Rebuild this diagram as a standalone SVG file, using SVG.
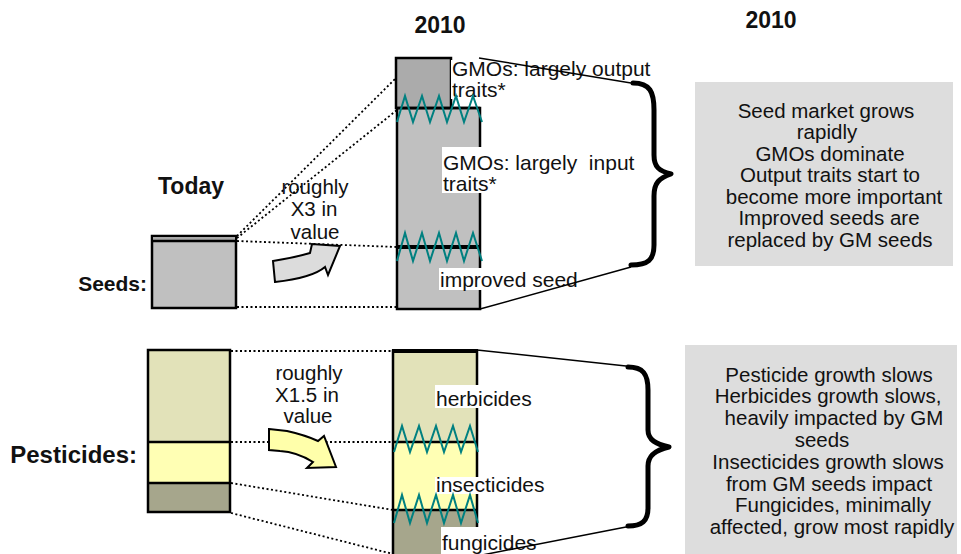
<svg xmlns="http://www.w3.org/2000/svg" width="961" height="554" viewBox="0 0 961 554">
  <style>
    text { font-family: "Liberation Sans", Arial, sans-serif; fill: #111; }
    .h { font-weight: bold; font-size: 23px; }
    .hs { font-weight: bold; font-size: 21px; }
    .hp { font-weight: bold; font-size: 24px; }
    .t { font-size: 20.5px; }
    .lbl { font-size: 21px; }
    .box { stroke: #000; stroke-width: 2.5; }
    .div { stroke: #000; stroke-width: 2.5; fill: none; }
    .thick { stroke: #000; stroke-width: 4; fill: none; }
    .dot { stroke: #000; stroke-width: 1.8; stroke-dasharray: 2 2.5; fill: none; }
    .zig { stroke: #008080; stroke-width: 2; fill: none; }
    .lead { stroke: #000; stroke-width: 1.5; fill: none; }
    .brace { stroke: #000; stroke-width: 5; fill: none; stroke-linecap: round; stroke-linejoin: round; }
    .bg { fill: #fff; }
    .note { fill: #dddddd; }
    .grow { stroke: #000; stroke-width: 2; stroke-linejoin: miter; }
  </style>

  <!-- column headings -->
  <g id="headings">
    <text class="h" x="440" y="33" text-anchor="middle">2010</text>
    <text class="h" x="771" y="28" text-anchor="middle">2010</text>
    <text class="h" x="191" y="194" text-anchor="middle">Today</text>
  </g>

  <!-- row labels -->
  <g id="row-labels">
    <text class="hs" x="147" y="291" text-anchor="end">Seeds:</text>
    <text class="hp" x="137" y="463" text-anchor="end">Pesticides:</text>
  </g>

  <!-- dotted projection lines between today and 2010 columns -->
  <g id="connectors">
    <line class="dot" x1="237" y1="236" x2="396" y2="78"/>
    <line class="dot" x1="237" y1="238" x2="397" y2="110"/>
    <line class="dot" x1="237" y1="241" x2="397" y2="247"/>
    <line class="dot" x1="237" y1="307" x2="397" y2="307"/>
    <line class="dot" x1="231" y1="351" x2="393" y2="351"/>
    <line class="dot" x1="231" y1="442" x2="393" y2="442"/>
    <line class="dot" x1="231" y1="483" x2="393" y2="510"/>
    <line class="dot" x1="231" y1="513" x2="393" y2="554"/>
  </g>

  <!-- seeds today -->
  <g id="seeds-today">
    <rect class="box" x="152" y="236" width="84" height="72" fill="#c0c0c0"/>
    <rect x="153" y="237" width="82" height="4" fill="#a8a8a8"/>
    <line class="div" x1="152" y1="241" x2="236" y2="241"/>
  </g>

  <!-- pesticides today -->
  <g id="pesticides-today">
    <rect x="148" y="350" width="82" height="92" fill="#e2e2b9"/>
    <rect x="148" y="442" width="82" height="41" fill="#ffffb4"/>
    <rect x="148" y="483" width="82" height="29" fill="#a6a68c"/>
    <rect class="box" x="148" y="350" width="82" height="162" fill="none"/>
    <line class="div" x1="148" y1="442" x2="230" y2="442"/>
    <line class="div" x1="148" y1="483" x2="230" y2="483"/>
  </g>

  <!-- growth arrows -->
  <g id="seeds-growth">
    <path class="grow" fill="#dcdcdc" d="M273,261 Q293,258 310,253 L312,244 L340,246 L328,275 L325,267 Q312,278 275,282 Z"/>
    <text class="t" x="315" y="194" text-anchor="middle">roughly</text>
    <text class="t" x="314" y="216" text-anchor="middle">X3 in</text>
    <text class="t" x="315" y="239" text-anchor="middle">value</text>
  </g>
  <g id="pesticides-growth">
    <path class="grow" fill="#ffffaa" d="M269,429 L287,431 Q305,435 318,441 L324,436 L336,467 L307,468 L313,462 Q297,452 280,451 L269,450 Z"/>
    <text class="t" x="309" y="380" text-anchor="middle">roughly</text>
    <text class="t" x="307" y="402" text-anchor="middle">X1.5 in</text>
    <text class="t" x="308" y="423" text-anchor="middle">value</text>
  </g>

  <!-- seeds 2010 column -->
  <g id="seeds-2010">
    <rect class="box" x="397" y="108" width="83" height="201" fill="#c0c0c0"/>
    <rect class="box" x="396" y="58" width="55" height="50" fill="#ababab"/>
    <line class="div" x1="396" y1="108" x2="480" y2="108"/>
    <line class="thick" x1="397" y1="247" x2="480" y2="247"/>
    <rect class="bg" x="451" y="60" width="201" height="18"/>
    <rect class="bg" x="451" y="77" width="51" height="22"/>
    <text class="lbl" x="452" y="76">GMOs: largely output</text>
    <text class="lbl" x="452" y="97">traits*</text>
    <rect class="bg" x="442" y="147" width="193" height="26"/>
    <rect class="bg" x="442" y="172" width="50" height="21"/>
    <text class="lbl" x="443" y="170" xml:space="preserve">GMOs: largely  input</text>
    <text class="lbl" x="443" y="191">traits*</text>
    <rect class="bg" x="439" y="268" width="138" height="22"/>
    <text class="lbl" x="440" y="287">improved seed</text>
    <polyline class="zig" points="397,122 405,96 413,122 422,96 430,122 439,96 447,122 456,96 464,122 473,96 482,122"/>
    <polyline class="zig" points="397,261 405,233 413,261 422,233 430,261 439,233 447,261 456,233 464,261 473,233 482,261"/>
  </g>

  <!-- pesticides 2010 column -->
  <g id="pesticides-2010">
    <rect x="393" y="351" width="84" height="91" fill="#e2e2b9"/>
    <rect x="393" y="442" width="84" height="68" fill="#ffffb4"/>
    <rect x="393" y="510" width="84" height="50" fill="#a6a68c"/>
    <polyline class="box" fill="none" points="393,560 393,351 477,351 477,560"/>
    <line class="thick" x1="392" y1="351" x2="478" y2="351"/>
    <line class="div" x1="393" y1="442" x2="477" y2="442"/>
    <line class="div" x1="393" y1="510" x2="477" y2="510"/>
    <rect class="bg" x="435" y="385" width="98" height="23"/>
    <text class="lbl" x="436" y="406">herbicides</text>
    <rect class="bg" x="435" y="477" width="111" height="17"/>
    <text class="lbl" x="436" y="492">insecticides</text>
    <rect class="bg" x="441" y="527" width="97" height="27"/>
    <text class="lbl" x="442" y="550">fungicides</text>
    <polyline class="zig" points="394,452 402,426 410,452 419,426 427,452 436,426 444,452 453,426 461,452 470,426 478,452"/>
    <polyline class="zig" points="394,523 402,495 410,523 419,495 427,523 436,495 444,523 453,495 461,523 470,495 478,523"/>
  </g>

  <!-- braces gathering each 2010 column -->
  <g id="seeds-brace">
    <line class="lead" x1="479" y1="58" x2="631" y2="83"/>
    <line class="lead" x1="480" y1="309" x2="631" y2="267"/>
    <path class="brace" d="M633,83 C650,83 654,92 654,110 L654,155 C654,167 659,171 671,174 C659,178 654,183 654,196 L654,245 C654,260 648,265 631,265"/>
  </g>
  <g id="pesticides-brace">
    <line class="lead" x1="477" y1="350" x2="626" y2="366"/>
    <line class="lead" x1="477" y1="556" x2="626" y2="527"/>
    <path class="brace" d="M628,367 C643,367 648,374 648,390 L648,430 C648,440 656,444 669,447 C656,450 648,455 648,466 L648,508 C648,521 642,526 628,526"/>
  </g>

  <!-- outlook notes -->
  <g id="seeds-outlook">
    <rect class="note" x="695" y="82" width="258" height="184"/>
    <text class="t" x="826" y="117.5" text-anchor="middle">Seed market grows</text>
    <text class="t" x="827" y="139" text-anchor="middle">rapidly</text>
    <text class="t" x="830" y="160.5" text-anchor="middle">GMOs dominate</text>
    <text class="t" x="830" y="182" text-anchor="middle">Output traits start to</text>
    <text class="t" x="834" y="203.5" text-anchor="middle">become more important</text>
    <text class="t" x="829" y="225" text-anchor="middle">Improved seeds are</text>
    <text class="t" x="830" y="246.5" text-anchor="middle">replaced by GM seeds</text>
  </g>
  <g id="pesticides-outlook">
    <rect class="note" x="685" y="345" width="272" height="215"/>
    <text class="t" x="829" y="381.5" text-anchor="middle">Pesticide growth slows</text>
    <text class="t" x="828" y="403.3" text-anchor="middle">Herbicides growth slows,</text>
    <text class="t" x="834" y="425.1" text-anchor="middle">heavily impacted by GM</text>
    <text class="t" x="822" y="446.9" text-anchor="middle">seeds</text>
    <text class="t" x="828" y="468.7" text-anchor="middle">Insecticides growth slows</text>
    <text class="t" x="829" y="490.5" text-anchor="middle">from GM seeds impact</text>
    <text class="t" x="833" y="512.3" text-anchor="middle">Fungicides, minimally</text>
    <text class="t" x="832" y="534.1" text-anchor="middle">affected, grow most rapidly</text>
  </g>
</svg>
